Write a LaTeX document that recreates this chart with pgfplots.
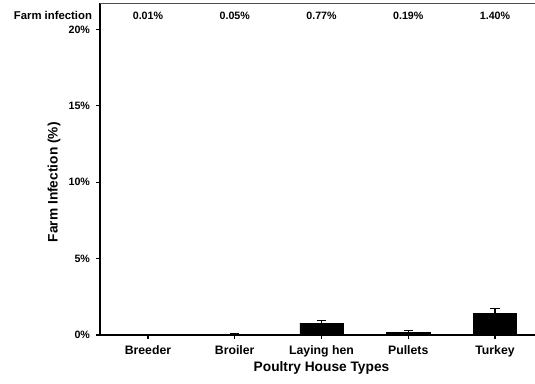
\documentclass[border=0pt]{standalone}
\usepackage{fontspec}
\setmainfont{Liberation Sans}
\usepackage{pgfplots}
\pgfplotsset{compat=1.18}
\begin{document}
\begin{tikzpicture}
\path[use as bounding box] (-75pt,-36pt) rectangle (326.25pt,251.25pt);
\begin{axis}[
  at={(0,0)}, anchor=south west,
  scale only axis, width=326.25pt, height=249pt,
  xmin=-0.553, xmax=4.461, ymin=0, ymax=21.74,
  axis x line=bottom, axis y line=left,
  axis line style={-, line width=0.8pt},
  tick align=outside, major tick length=3pt,
  tick style={line width=0.8pt, black},
  xtick={0,1,2,3,4},
  xticklabels={Breeder,Broiler,Laying hen,Pullets,Turkey},
  ytick={0,5,10,15,20},
  yticklabel={\pgfmathprintnumber{\tick}\%},
  /pgf/number format/assume math mode=true,
  y tick label style={font=\bfseries\fontsize{8}{9}\selectfont, xshift=-1pt},
  x tick label style={font=\bfseries\fontsize{9.2}{10}\selectfont, yshift=-1.5pt},
  xlabel={Poultry House Types},
  ylabel={Farm Infection (\%)},
  label style={font=\bfseries\fontsize{10.3}{12}\selectfont},
  xlabel style={at={(axis cs:2,0)}, anchor=center, yshift=-24.5pt},
  ylabel style={at={(axis description cs:-0.1057,0.46)}, anchor=center},
  clip=false,
]
\addplot[ybar, bar width=0.5, fill=black, draw=black,
  error bars/.cd, y dir=plus, y explicit,
  error bar style={line width=0.8pt, black},
  error mark options={rotate=90, mark size=3.4pt, line width=0.8pt, black}]
  coordinates {
  (0,0.01) +- (0,0.005)
  (1,0.05) +- (0,0.02)
  (2,0.77) +- (0,0.17)
  (3,0.19) +- (0,0.08)
  (4,1.40) +- (0,0.31)
};
\draw[line width=0.6pt, black!70] (rel axis cs:0,1) -- (rel axis cs:1,1);
\begin{scope}[font=\bfseries\fontsize{8}{9}\selectfont]
\node[anchor=east, font=\bfseries\fontsize{8.5}{9}\selectfont] at (axis cs:-0.553,20.93) [xshift=-2.5pt] {Farm infection};
\node at (axis cs:0,20.93) {0.01\%};
\node at (axis cs:1,20.93) {0.05\%};
\node at (axis cs:2,20.93) {0.77\%};
\node at (axis cs:3,20.93) {0.19\%};
\node at (axis cs:4,20.93) {1.40\%};
\end{scope}
\end{axis}
\end{tikzpicture}
\end{document}
